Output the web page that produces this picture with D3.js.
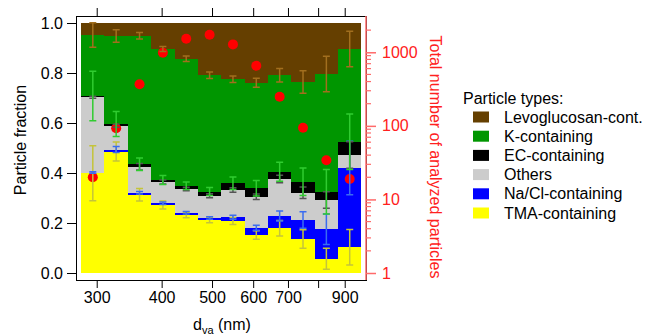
<!DOCTYPE html>
<html>
<head>
<meta charset="utf-8">
<script src="https://cdn.jsdelivr.net/npm/d3@7"></script>
<style>
  body { margin: 0; background: #fff; }
  text { font-family: "Liberation Sans", Arial, sans-serif; }
</style>
</head>
<body>
<div id="my_dataviz"></div>
<script>
// size bins (d_va, nm), log spaced
const binEdges = [280, 310.5, 344.4, 381.9, 423.5, 469.7, 520.9, 577.7, 640.6, 710.5, 787.9, 873.8, 969];

// particle fractions per bin, stacked from the bottom up
const tma    = [0.399, 0.486, 0.313, 0.272, 0.232, 0.212, 0.208, 0.152, 0.179, 0.136, 0.057, 0.103];
const nacl   = [0.003, 0.008, 0.008, 0.007, 0.009, 0.008, 0.015, 0.029, 0.049, 0.076, 0.118, 0.317];
const others = [0.301, 0.095, 0.104, 0.085, 0.095, 0.089, 0.109, 0.124, 0.148, 0.109, 0.117, 0.052];
const ec     = [0.005, 0.007, 0.010, 0.008, 0.013, 0.017, 0.027, 0.034, 0.029, 0.044, 0.033, 0.053];
const kCont  = [0.244, 0.352, 0.514, 0.524, 0.508, 0.465, 0.416, 0.422, 0.386, 0.399, 0.471, 0.371];
const levo   = [0.048, 0.052, 0.051, 0.104, 0.143, 0.209, 0.225, 0.239, 0.209, 0.236, 0.204, 0.104];

// error bars (+/-)
const tmaErr  = [0.110, 0.038, 0.025, 0.016, 0.011, 0.011, 0.014, 0.017, 0.031, 0.037, 0.042, 0.071];
const naclErr = [0.003, 0.012, 0.005, 0.005, 0.005, 0.005, 0.008, 0.010, 0.020, 0.033, 0.061, 0.107];
const ecErr   = [0.004, 0.006, 0.013, 0.008, 0.007, 0.008, 0.009, 0.011, 0.015, 0.023, 0.033, 0.053];
const kErr    = [0.099, 0.050, 0.025, 0.018, 0.015, 0.016, 0.025, 0.031, 0.038, 0.055, 0.089, 0.111];
const levoErr = [0.049, 0.025, 0.013, 0.010, 0.011, 0.013, 0.013, 0.018, 0.027, 0.045, 0.071, 0.071];

// total number of analyzed particles (right axis)
const totals = [20, 93, 367, 985, 1525, 1730, 1280, 656, 249, 94, 34, 19];

const xTicks = [300, 400, 500, 600, 700, 800, 900];
const xLabeled = [300, 400, 500, 600, 700, 900];
const yTicks = [0, 0.2, 0.4, 0.6, 0.8, 1.0];

const keys = ["tma", "nacl", "others", "ec", "k", "levo"];
const names = {
  levo: "Levoglucosan-cont.", k: "K-containing", ec: "EC-containing",
  others: "Others", nacl: "Na/Cl-containing", tma: "TMA-containing"
};
const fills = {
  tma: "#ffff00", nacl: "#0000ff", others: "#cccccc",
  ec: "#000000", k: "#009600", levo: "#653f00"
};
const errColors = {
  tma: "#c4c43a", nacl: "#3a6cf0", ec: "#555555", k: "#30cc30", levo: "#a26f1e"
};

const width = 653, height = 336;
const frame = { left: 76, right: 366, top: 16, bottom: 280 };

const svg = d3.select("#my_dataviz").append("svg")
  .attr("width", width).attr("height", height);

const x = d3.scaleLog().domain([273.7, 989]).range([frame.left, frame.right]);
const y = d3.scaleLinear().domain([0, 1]).range([273, 23]);
const yR = d3.scaleLog().domain([1, 2500]).range([273, 23]);

// build rows for d3.stack
const rows = tma.map((v, i) => ({
  i: i, tma: v, nacl: nacl[i], others: others[i], ec: ec[i], k: kCont[i], levo: levo[i]
}));
const stacked = d3.stack().keys(keys)(rows);

svg.append("g").attr("shape-rendering", "crispEdges")
  .selectAll("g").data(stacked).join("g")
  .attr("fill", d => fills[d.key])
  .selectAll("rect").data(d => d).join("rect")
  .attr("x", d => x(binEdges[d.data.i]))
  .attr("width", d => x(binEdges[d.data.i + 1]) - x(binEdges[d.data.i]))
  .attr("y", d => y(d[1]))
  .attr("height", d => y(d[0]) - y(d[1]));

const centers = binEdges.slice(0, -1).map((e, i) => Math.sqrt(e * binEdges[i + 1]));
const cum = k => stacked.find(s => s.key === k).map(d => d[1]);

// red dots
svg.append("g").selectAll("circle").data(totals).join("circle")
  .attr("cx", (d, i) => x(centers[i]))
  .attr("cy", d => yR(d))
  .attr("r", 5)
  .attr("fill", "#ff0000");

// error bars: lower types at their top, upper types at their bottom
const errSets = [
  { key: "tma", pos: cum("tma"), err: tmaErr },
  { key: "nacl", pos: cum("nacl"), err: naclErr },
  { key: "ec", pos: cum("others"), err: ecErr },
  { key: "k", pos: cum("ec"), err: kErr },
  { key: "levo", pos: cum("k"), err: levoErr }
];
errSets.forEach(s => {
  const g = svg.append("g").attr("stroke", errColors[s.key]).attr("stroke-width", 1.5);
  s.err.forEach((e, i) => {
    const cx = x(centers[i]);
    const y1 = y(s.pos[i] + e), y2 = y(s.pos[i] - e);
    g.append("line").attr("x1", cx).attr("x2", cx).attr("y1", y1).attr("y2", y2);
    g.append("line").attr("x1", cx - 3.5).attr("x2", cx + 3.5).attr("y1", y1).attr("y2", y1);
    g.append("line").attr("x1", cx - 3.5).attr("x2", cx + 3.5).attr("y1", y2).attr("y2", y2);
  });
});

// frame
svg.append("rect")
  .attr("x", frame.left).attr("y", frame.top)
  .attr("width", frame.right - frame.left).attr("height", frame.bottom - frame.top)
  .attr("fill", "none").attr("stroke", "#000").attr("stroke-width", 1)
  .attr("shape-rendering", "crispEdges");

// bottom axis
const xAxis = svg.append("g")
  .attr("transform", "translate(0," + frame.bottom + ")")
  .call(d3.axisBottom(x).tickValues(xTicks).tickSize(8).tickPadding(4)
    .tickFormat(d => xLabeled.includes(d) ? d : ""));
xAxis.select(".domain").remove();
xAxis.selectAll("text").attr("font-size", 16).attr("fill", "#000");

// top mirror ticks
const topAxis = svg.append("g")
  .attr("transform", "translate(0," + frame.top + ")")
  .call(d3.axisTop(x).tickValues(xTicks).tickSize(8).tickFormat(""));
topAxis.select(".domain").remove();

// left axis
const yAxis = svg.append("g")
  .attr("transform", "translate(" + frame.left + ",0)")
  .call(d3.axisLeft(y).tickValues(yTicks).tickSize(9).tickPadding(4).tickFormat(d3.format(".1f")));
yAxis.select(".domain").remove();
yAxis.selectAll("text").attr("font-size", 16).attr("fill", "#000");

// right axis (log, red)
const rMinor = [];
[1, 10, 100, 1000].forEach(p => { for (let m = 2; m <= 9; m++) if (p * m <= 2500) rMinor.push(p * m); });
const rAxis = svg.append("g").attr("transform", "translate(" + frame.right + ",0)");
rAxis.append("line").attr("x1", 0).attr("x2", 0).attr("y1", frame.top).attr("y2", frame.bottom)
  .attr("stroke", "#ff6a6a").attr("stroke-width", 1.5);
rAxis.call(d3.axisRight(yR).tickValues([1, 10, 100, 1000]).tickSize(10).tickPadding(6)
  .tickFormat(d3.format("d")));
rAxis.select(".domain").remove();
rAxis.selectAll(".tick line").attr("stroke", "#ff6a6a").attr("stroke-width", 1.5);
rAxis.selectAll("text").attr("font-size", 16).attr("fill", "#ff2020");
rAxis.append("g").selectAll("line").data(rMinor).join("line")
  .attr("x1", 0).attr("x2", 5).attr("y1", d => yR(d)).attr("y2", d => yR(d))
  .attr("stroke", "#ff6a6a").attr("stroke-width", 1.2);

// axis titles
svg.append("text")
  .attr("transform", "translate(26,140) rotate(-90)")
  .attr("text-anchor", "middle").attr("font-size", 16)
  .text("Particle fraction");

svg.append("text")
  .attr("transform", "translate(430,157) rotate(90)")
  .attr("text-anchor", "middle").attr("font-size", 16).attr("fill", "#ff2020")
  .text("Total number of analyzed particles");

const xt = svg.append("text")
  .attr("x", 222).attr("y", 330)
  .attr("text-anchor", "middle").attr("font-size", 16);
xt.append("tspan").text("d");
xt.append("tspan").attr("font-size", 11).attr("dy", 4).text("va");
xt.append("tspan").attr("dy", -4).text(" (nm)");

// legend
const legend = svg.append("g");
legend.append("text").attr("x", 463).attr("y", 104).attr("font-size", 16).text("Particle types:");
const legendKeys = ["levo", "k", "ec", "others", "nacl", "tma"];
legendKeys.forEach((k, i) => {
  const cy = 117 + i * 19.2;
  legend.append("rect").attr("x", 473).attr("y", cy - 5.5).attr("width", 16).attr("height", 11)
    .attr("fill", fills[k]);
  legend.append("text").attr("x", 504).attr("y", cy + 5.5).attr("font-size", 16).text(names[k]);
});
</script>
</body>
</html>
